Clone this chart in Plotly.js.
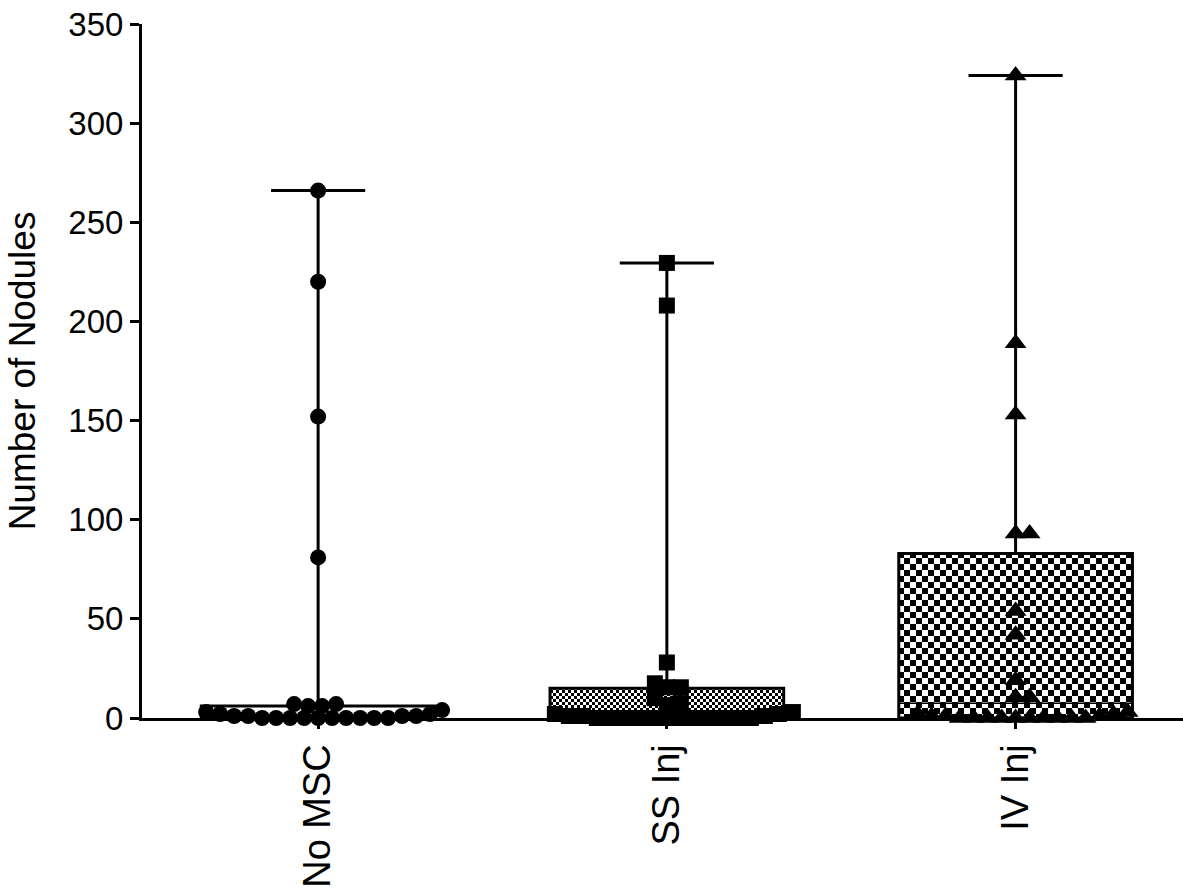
<!DOCTYPE html>
<html>
<head>
<meta charset="utf-8">
<script src="https://cdn.plot.ly/plotly-3.0.1.min.js"></script>
<style>html,body{margin:0;padding:0;background:#fff;}#chart{width:1183px;height:890px;}</style>
</head>
<body>
<div id="chart"></div>
<script>
// ---- data ----
const categories = ["No MSC", "SS Inj", "IV Inj"];
const noMscValues = [266, 220, 152, 81, 7, 7, 6, 6, 4, 3, 2, 2, 1, 1, 1, 1, 0, 0, 0, 0, 0, 0, 0, 0, 0, 0];
const ssInjValues = [229.5, 208, 28, 17.5, 15.5, 15.5, 10, 7.5, 6.5, 3, 2, 2, 1, 1, 1, 0, 0, 0, 0, 0, 0, 0, 0, 0, 0, 0, 0];
const ivInjValues = [324, 189, 153, 93, 93, 54, 42, 19, 10.5, 10.5, 3, 2, 2, 1, 1, 1, 0, 0, 0, 0, 0, 0, 0, 0, 0, 0];
const boxQ1 = [0.5, 1.5, 0];
const boxMedian = [1, 3, 7.5];
const boxQ3 = [6, 15, 83];
const boxMax = [266, 229.5, 324];
const yTicks = [0, 50, 100, 150, 200, 250, 300, 350];

// ---- layout geometry ----
const W = 1183, H = 890;
const M = {l: 142, r: 0, t: 24, b: 172};
const xRange = [-0.505, 2.48];
const yRange = [0, 350];
const pxPerX = (W - M.l - M.r) / (xRange[1] - xRange[0]);
const pxPerY = (H - M.t - M.b) / (yRange[1] - yRange[0]);
const boxHalf = 0.335, capHalf = 0.135;

// beeswarm offsets computed from the values (collision avoidance in pixel space)
function swarm(values, center, dist) {
  const idx = values.map((v, i) => i).sort((a, b) => values[a] - values[b]);
  const placed = [];
  const xs = new Array(values.length);
  for (const i of idx) {
    const yp = values[i] * pxPerY;
    let chosen = 0;
    for (let k = 0; k < 400; k++) {
      const off = (k === 0 ? 0 : (k % 2 ? 1 : -1) * Math.ceil(k / 2) * 2);
      const ok = placed.every(p => Math.hypot(p[0] - off, p[1] - yp) >= dist);
      if (ok) { chosen = off; break; }
    }
    placed.push([chosen, yp]);
    xs[i] = center + chosen / pxPerX;
  }
  return xs;
}

const groups = [noMscValues, ssInjValues, ivInjValues];
const symbols = ["circle", "square", "triangle-up"];
const sizes = [16, 16, 19];

const traces = [];
// IQR boxes as bars
traces.push({
  type: "bar",
  x: [0, 1, 2],
  base: boxQ1,
  y: boxQ3.map((q, i) => q - boxQ1[i]),
  width: boxHalf * 2,
  marker: {color: "#ffffff", line: {color: "#000", width: 3}},
  hoverinfo: "skip",
  showlegend: false
});
// whiskers, caps and medians
for (let i = 0; i < 3; i++) {
  traces.push({type: "scatter", mode: "lines", x: [i, i], y: [boxQ3[i], boxMax[i]],
    line: {color: "#000", width: 3}, showlegend: false, hoverinfo: "skip"});
  traces.push({type: "scatter", mode: "lines", x: [i - capHalf, i + capHalf], y: [boxMax[i], boxMax[i]],
    line: {color: "#000", width: 3}, showlegend: false, hoverinfo: "skip"});
  traces.push({type: "scatter", mode: "lines", x: [i - boxHalf, i + boxHalf], y: [boxMedian[i], boxMedian[i]],
    line: {color: "#000", width: 1.5}, showlegend: false, hoverinfo: "skip"});
}
// points
for (let i = 0; i < 3; i++) {
  traces.push({
    type: "scatter", mode: "markers",
    x: swarm(groups[i], i, 12.5),
    y: groups[i],
    marker: {symbol: symbols[i], size: sizes[i], color: "#000"},
    cliponaxis: false,
    name: categories[i],
    showlegend: false
  });
}

const layout = {
  width: W, height: H,
  margin: M,
  paper_bgcolor: "#fff", plot_bgcolor: "#fff",
  font: {family: "Liberation Sans, Arial, sans-serif", color: "#000"},
  showlegend: false,
  xaxis: {
    range: xRange, tickmode: "array", tickvals: [0, 1, 2], ticktext: categories,
    tickangle: -90, tickfont: {size: 38}, showline: true, linewidth: 3, linecolor: "#000",
    ticks: "outside", ticklen: 8, tickwidth: 3, tickcolor: "#000",
    showgrid: false, zeroline: false
  },
  yaxis: {
    range: yRange, tickmode: "array", tickvals: yTicks,
    tickfont: {size: 33}, showline: true, linewidth: 3, linecolor: "#000",
    ticks: "outside", ticklen: 9, tickwidth: 3, tickcolor: "#000",
    showgrid: false, zeroline: false,
    title: {text: "Number of Nodules", font: {size: 37}, standoff: 22}
  }
};

Plotly.newPlot("chart", traces, layout, {displayModeBar: false, staticPlot: true}).then(function (gd) {
  const svg = gd.querySelector("svg.main-svg");
  let defs = svg.querySelector("defs");
  const NS = "http://www.w3.org/2000/svg";
  function makeChecker(id, c) {
    const p = document.createElementNS(NS, "pattern");
    p.setAttribute("id", id);
    p.setAttribute("patternUnits", "userSpaceOnUse");
    p.setAttribute("width", 2 * c);
    p.setAttribute("height", 2 * c);
    const rects = [[0, 0, 2 * c, 2 * c, "#fff"], [0, 0, c, c, "#000"], [c, c, c, c, "#000"]];
    rects.forEach(r => {
      const e = document.createElementNS(NS, "rect");
      e.setAttribute("x", r[0]); e.setAttribute("y", r[1]);
      e.setAttribute("width", r[2]); e.setAttribute("height", r[3]);
      e.setAttribute("fill", r[4]);
      p.appendChild(e);
    });
    defs.appendChild(p);
  }
  makeChecker("chkSmall", 3);
  makeChecker("chkLarge", 6);
  const fills = ["#ffffff", "url(#chkSmall)", "url(#chkLarge)"];
  gd.querySelectorAll(".barlayer .point path").forEach((path, i) => {
    path.style.fill = fills[i];
  });
});
</script>
</body>
</html>
